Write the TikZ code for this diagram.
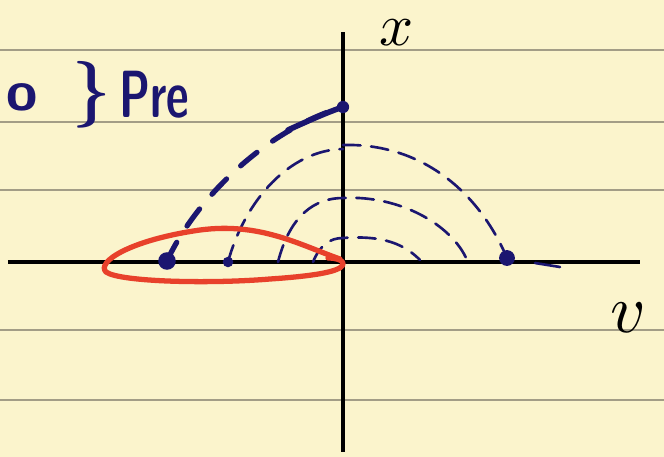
\documentclass[tikz,border=0pt]{standalone}
\usepackage{graphicx}
\usetikzlibrary{calc}
\definecolor{paper}{HTML}{FBF4CC}
\definecolor{rule}{HTML}{A39D86}
\definecolor{ink}{HTML}{1B1670}
\definecolor{redink}{HTML}{E8412B}
\tikzset{
  axis/.style={draw=black, line width=2.2pt},
  ruled/.style={draw=rule, line width=0.7pt},
  traj/.style={draw=ink, line width=1.5pt, line cap=round,
    dash pattern=on 10pt off 6pt},
  bigtraj/.style={draw=ink, line width=3pt, line cap=round,
    dash pattern=on 12pt off 11pt},
  dot/.style={circle, fill=ink, inner sep=0pt},
  hand/.style={text=ink, inner sep=0pt,
    font=\sffamily\bfseries\fontsize{38}{40}\selectfont},
  axlabel/.style={text=black, inner sep=0pt},
  loop/.style={draw=redink, line width=3pt, line cap=round, line join=round}
}
\begin{document}
\begin{tikzpicture}[x=0.02cm, y=-0.02cm]
  \fill[paper] (0,0) rectangle (664,457);
  \useasboundingbox (0,0) rectangle (664,457);
  % ruled paper
  \foreach \y in {50,122,190,330,400}
    \draw[ruled] (0,\y) -- (664,\y);
  % axes
  \draw[axis] (8,262) -- (640,262);
  \draw[axis] (343,32) -- (343,452);
  \node[axlabel] (xlab) at (397,33) {\scalebox{3.4}{$x$}};
  \node[axlabel] (vlab) at (628,318) {\scalebox{3.9}{$v$}};
  % note
  \node[hand] (ring) at (22,97) {\scalebox{0.85}{o}};
  \node[hand] (brace) at (92,95) {\}};
  \node[hand, anchor=west] (pre) at (119,95) {\scalebox{0.66}[1]{Pre}};
  % end points
  \node[dot, minimum size=10pt] (s1) at (167,261) {};
  \node[dot, minimum size=7pt] (e1) at (343,107) {};
  \node[dot, minimum size=6pt] (s2) at (228,262) {};
  \node[dot, minimum size=9pt] (e2) at (507,258) {};
  \coordinate (s3) at (278,262);
  \coordinate (e3) at (467,260);
  \coordinate (s4) at (313,262);
  \coordinate (e4) at (420,260);
  % trajectories
  \draw[bigtraj] (s1.center) .. controls (195,200) and (265,130) .. (e1.center);
  \draw[draw=ink, line width=3.2pt, line cap=round] (288,130) .. controls (310,120) and (328,112) .. (e1.center);
  \draw[traj] (s2.center) .. controls (245,200) and (290,150) .. (343,149);
  \draw[traj] (343,145) .. controls (420,143) and (478,190) .. (e2.center);
  \draw[draw=ink, line width=1.5pt, line cap=round] (535,263) -- (560,267);
  \draw[traj] (s3) .. controls (290,215) and (315,198) .. (343,198)
    .. controls (400,195) and (452,225) .. (e3);
  \draw[traj] (s4) .. controls (320,245) and (330,238) .. (343,238)
    .. controls (385,235) and (405,245) .. (e4);
  % highlighted region
  \draw[loop] (328,258) .. controls (336,258) and (342,260) .. (343,263)
    .. controls (344,269) and (330,275) .. (270,279)
    .. controls (210,284) and (120,282) .. (106,272)
    .. controls (96,262) and (130,240) .. (200,230)
    .. controls (260,222) and (300,245) .. (340,259);
\end{tikzpicture}
\end{document}
